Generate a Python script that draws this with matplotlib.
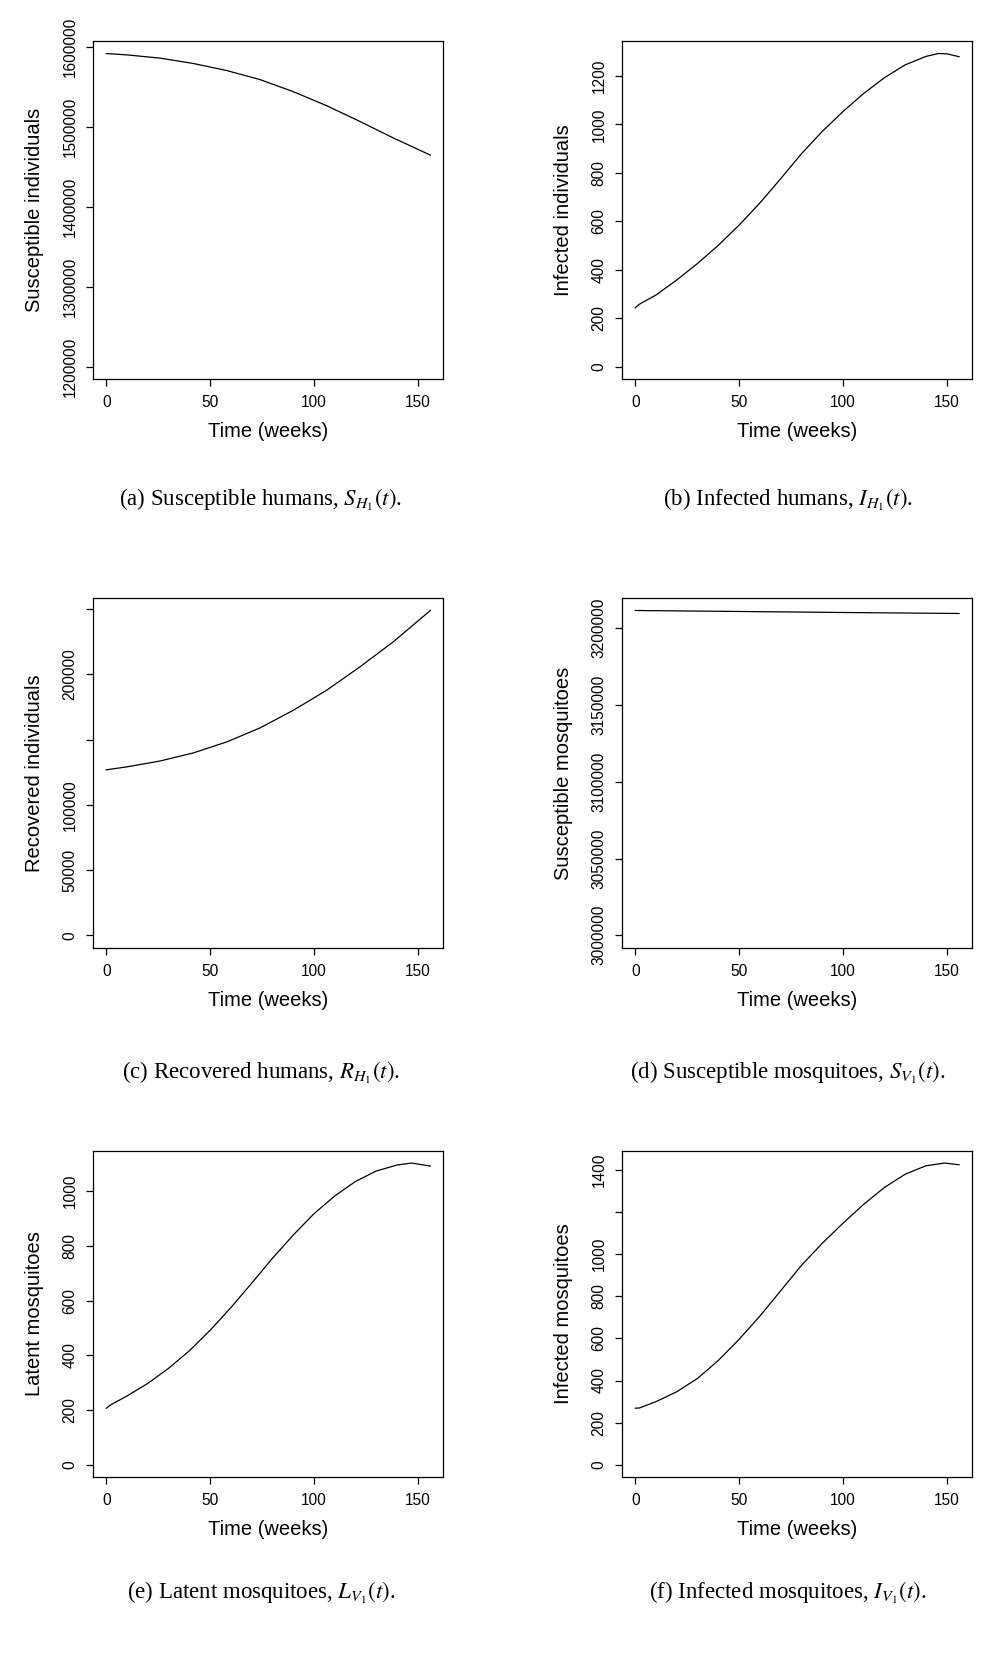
import matplotlib
matplotlib.use("Agg")
import matplotlib.pyplot as plt

plt.rcParams['font.family'] = ['Liberation Sans', 'DejaVu Sans']
plt.rcParams['mathtext.fontset'] = 'stix'

# values (weeks -> population)
weeks_a = [0, 10, 26, 42, 58, 74, 90, 106, 122, 138, 156]
susc_humans = [1592000, 1590300, 1586200, 1579500, 1570700, 1559400,
               1544300, 1526800, 1507100, 1486600, 1464900]

weeks_b = [0, 2, 10, 20, 30, 40, 50, 60, 70, 80, 90, 100, 110, 120, 130, 140, 146, 150, 156]
inf_humans = [243, 258, 296, 358, 426, 501, 584, 675, 775, 878, 970, 1052, 1127,
              1192, 1245, 1280, 1292, 1291, 1279]

weeks_c = [0, 10, 26, 42, 58, 74, 90, 106, 122, 138, 156]
rec_humans = [126800, 129100, 133600, 139800, 148200, 158900, 172400,
              187700, 205600, 224700, 248900]

weeks_d = [0, 50, 100, 156]
susc_mosq = [3211500, 3210860, 3210200, 3209550]

weeks_e = [0, 2, 10, 20, 30, 40, 50, 60, 70, 80, 90, 100, 110, 120, 130, 140, 147, 156]
latent_mosq = [207, 219, 252, 298, 353, 417, 492, 575, 664, 755, 840, 918, 983,
               1036, 1074, 1096, 1103, 1092]

weeks_f = [0, 2, 10, 20, 30, 40, 50, 60, 70, 80, 90, 100, 110, 120, 130, 140, 149, 156]
inf_mosq = [269, 270, 300, 347, 410, 495, 595, 705, 825, 945, 1050, 1145, 1235,
            1315, 1378, 1418, 1431, 1423]

x_ticks = [0, 50, 100, 150]

panels = [
    dict(t=weeks_a, y=susc_humans, ylabel="Susceptible individuals", ylo=1200000,
         yticks=[1200000, 1300000, 1400000, 1500000, 1600000], hide=[],
         caption=r"(a) Susceptible humans, $S_{H_1}(t)$."),
    dict(t=weeks_b, y=inf_humans, ylabel="Infected individuals", ylo=0,
         yticks=[0, 200, 400, 600, 800, 1000, 1200], hide=[],
         caption=r"(b) Infected humans, $I_{H_1}(t)$."),
    dict(t=weeks_c, y=rec_humans, ylabel="Recovered individuals", ylo=0,
         yticks=[0, 50000, 100000, 150000, 200000, 250000], hide=[150000, 250000],
         caption=r"(c) Recovered humans, $R_{H_1}(t)$."),
    dict(t=weeks_d, y=susc_mosq, ylabel="Susceptible mosquitoes", ylo=3000000,
         yticks=[3000000, 3050000, 3100000, 3150000, 3200000], hide=[],
         caption=r"(d) Susceptible mosquitoes, $S_{V_1}(t)$."),
    dict(t=weeks_e, y=latent_mosq, ylabel="Latent mosquitoes", ylo=0,
         yticks=[0, 200, 400, 600, 800, 1000], hide=[],
         caption=r"(e) Latent mosquitoes, $L_{V_1}(t)$."),
    dict(t=weeks_f, y=inf_mosq, ylabel="Infected mosquitoes", ylo=0,
         yticks=[0, 200, 400, 600, 800, 1000, 1200, 1400], hide=[1200],
         caption=r"(f) Infected mosquitoes, $I_{V_1}(t)$."),
]

W, H = 1001, 1660
fig = plt.figure(figsize=(W / 100, H / 100), dpi=100)

# pixel boxes of the plot regions (left, right) and (top, bottom)
cols = [(93.3, 443.3), (622.3, 972.0)]
rows = [(41.0, 379.3), (597.5, 948.3), (1151.0, 1477.0)]
caption_y = [500, 1073, 1593]
caption_x = [261, 788]

for i, p in enumerate(panels):
    r, c = divmod(i, 2)
    left, right = cols[c]
    top, bottom = rows[r]
    wpx, hpx = right - left, bottom - top
    ax = fig.add_axes([left / W, 1 - bottom / H, wpx / W, hpx / H])

    ax.plot(p['t'], p['y'], color='black', lw=0.9, solid_joinstyle='round')

    # R style limits: data range padded by 4%
    xlo, xhi = 0, max(p['t'])
    ylo, yhi = p['ylo'], max(p['y'])
    ax.set_xlim(xlo - 0.04 * (xhi - xlo), xhi + 0.04 * (xhi - xlo))
    ax.set_ylim(ylo - 0.04 * (yhi - ylo), yhi + 0.04 * (yhi - ylo))

    ax.set_xticks(x_ticks)
    ax.set_xticklabels([str(v) for v in x_ticks])
    ax.set_yticks(p['yticks'])
    ax.set_yticklabels(["" if v in p['hide'] else str(v) for v in p['yticks']],
                       rotation=90, va='center', ha='right')

    ax.tick_params(direction='out', length=5.3, width=0.9, labelsize=11.2,
                   colors='black')
    ax.tick_params(axis='x', pad=6)
    ax.tick_params(axis='y', pad=6)
    for s in ax.spines.values():
        s.set_linewidth(0.9)

    ax.set_xlabel("Time (weeks)", fontsize=14.5, va='center')
    ax.xaxis.set_label_coords(0.5, -52.0 / hpx)
    ax.set_ylabel(p['ylabel'], fontsize=14.5, va='center')
    ax.yaxis.set_label_coords(-58.5 / wpx, 0.5)

    fig.text(caption_x[c] / W, 1 - caption_y[r] / H, p['caption'],
             ha='center', va='center', fontsize=16.5,
             family=['Liberation Serif', 'DejaVu Serif'])

fig.savefig("out.png", dpi=100, facecolor='white')
